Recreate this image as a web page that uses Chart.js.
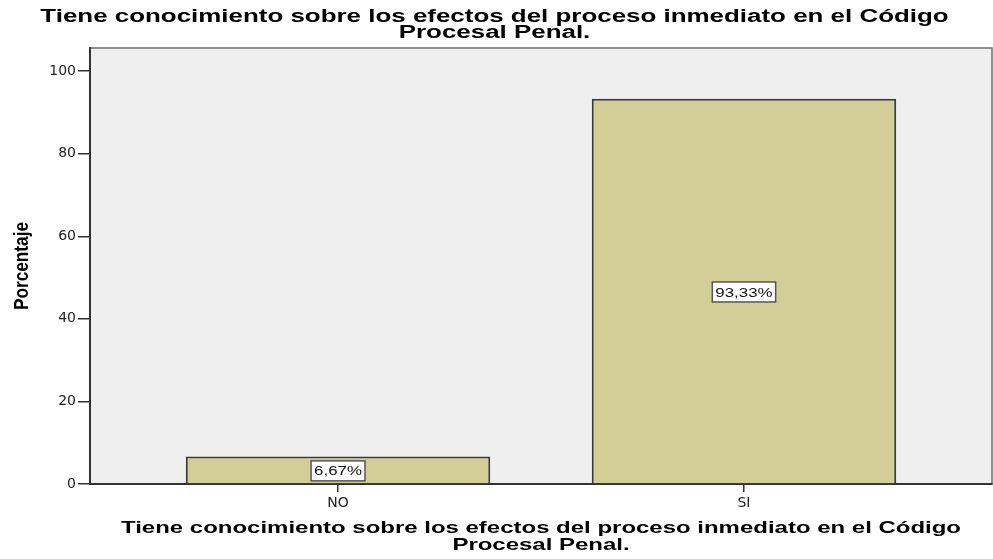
<!DOCTYPE html>
<html>
<head>
<meta charset="utf-8">
<script src="https://cdn.jsdelivr.net/npm/chart.js@4/dist/chart.umd.min.js"></script>
<style>
  html, body { margin: 0; padding: 0; background: #fff; }
  #wrap { width: 993px; height: 559px; }
</style>
</head>
<body>
<div id="wrap"><canvas id="barChart"></canvas></div>
<script>
// Data
const categories = ['NO', 'SI'];
const percentages = [6.67, 93.33];
const pointLabels = ['6,67%', '93,33%'];
const yTicks = [0, 20, 40, 60, 80, 100];

const titleLines = ['Tiene conocimiento sobre los efectos del proceso inmediato en el Código', 'Procesal Penal.'];
const xTitleLines = ['Tiene conocimiento sobre los efectos del proceso inmediato en el Código', 'Procesal Penal.'];
const yTitle = 'Porcentaje';

// SPSS draws its text wider than Arial, so stretch it horizontally
function stretchedText(ctx, text, x, y, font, sx) {
    ctx.save();
    ctx.font = font;
    ctx.translate(x, y);
    ctx.scale(sx, 1);
    ctx.fillText(text, 0, 0);
    ctx.restore();
}

const spssFrame = {
    id: 'spssFrame',
    beforeDraw(chart) {
        const { ctx, chartArea: a } = chart;
        ctx.save();
        ctx.fillStyle = '#efefef';
        ctx.fillRect(a.left, a.top, a.right - a.left, a.bottom - a.top);
        ctx.strokeStyle = '#6e6e6e';
        ctx.lineWidth = 1.5;
        ctx.strokeRect(a.left, a.top, a.right - a.left, a.bottom - a.top);
        ctx.restore();
    },
    afterDraw(chart) {
        const { ctx, chartArea: a, width } = chart;
        ctx.save();
        ctx.fillStyle = '#000';
        ctx.textAlign = 'center';
        ctx.textBaseline = 'alphabetic';

        // main title
        stretchedText(ctx, titleLines[0], width / 2 - 2, 22, 'bold 18px "Liberation Sans"', 1.44);
        stretchedText(ctx, titleLines[1], width / 2 - 2, 38, 'bold 18px "Liberation Sans"', 1.44);

        // x axis title
        const cx = (a.left + a.right) / 2;
        stretchedText(ctx, xTitleLines[0], cx, 533, 'bold 17px "Liberation Sans"', 1.41);
        stretchedText(ctx, xTitleLines[1], cx, 550, 'bold 17px "Liberation Sans"', 1.41);

        // y axis title
        ctx.save();
        ctx.translate(28, (a.top + a.bottom) / 2);
        ctx.rotate(-Math.PI / 2);
        stretchedText(ctx, yTitle, 0, 0, 'bold 21px "Liberation Sans"', 0.82);
        ctx.restore();

        // value boxes in the middle of each bar
        const meta = chart.getDatasetMeta(0);
        ctx.font = '13px "Liberation Sans"';
        meta.data.forEach((bar, i) => {
            const txt = pointLabels[i];
            const w = ctx.measureText(txt).width * 1.3 + 6;
            const h = 20;
            const x = bar.x;
            const y = (bar.y + bar.base) / 2 + 1;
            ctx.fillStyle = '#fff';
            ctx.fillRect(x - w / 2, y - h / 2, w, h);
            ctx.strokeStyle = '#555';
            ctx.lineWidth = 1.5;
            ctx.strokeRect(x - w / 2, y - h / 2, w, h);
            ctx.fillStyle = '#111';
            ctx.textBaseline = 'middle';
            stretchedText(ctx, txt, x, y + 1, '13px "Liberation Sans"', 1.3);
        });
        ctx.restore();
    }
};

const ctx = document.getElementById('barChart').getContext('2d');
const barChart = new Chart(ctx, {
    type: 'bar',
    data: {
        datasets: [{
            label: 'Porcentaje',
            data: percentages.map((v, i) => ({ x: i, y: v })),
            backgroundColor: '#d3ce97',
            borderColor: '#3a3a3a',
            borderWidth: 2,
            barPercentage: 0.75,
            categoryPercentage: 1
        }]
    },
    options: {
        responsive: true,
        maintainAspectRatio: false,
        animation: false,
        layout: { padding: { top: 48, right: 1, left: 0, bottom: 0 } },
        plugins: {
            legend: { display: false },
            tooltip: { enabled: false }
        },
        scales: {
            x: {
                type: 'linear',
                offset: false,
                min: -0.611,
                max: 1.611,
                afterBuildTicks: (scale) => {
                    scale.ticks = categories.map((c, i) => ({ value: i }));
                },
                afterFit: (scale) => { scale.height = 75; },
                ticks: {
                    callback: (value) => categories[value],
                    color: '#222',
                    padding: 3,
                    font: { family: 'DejaVu Sans', size: 14 }
                },
                grid: {
                    offset: false,
                    drawOnChartArea: false,
                    color: '#333',
                    tickLength: 8,
                    lineWidth: 1.5
                },
                border: { color: '#333', width: 2 }
            },
            y: {
                min: 0,
                max: 105.6,
                afterBuildTicks: (scale) => {
                    scale.ticks = yTicks.map(v => ({ value: v }));
                },
                afterFit: (scale) => { scale.width = 90; },
                ticks: {
                    color: '#222',
                    padding: 2,
                    font: { family: 'DejaVu Sans', size: 14 }
                },
                grid: {
                    drawOnChartArea: false,
                    color: '#333',
                    tickLength: 12,
                    lineWidth: 1.5
                },
                border: { color: '#333', width: 2 }
            }
        }
    },
    plugins: [spssFrame]
});
</script>
</body>
</html>
